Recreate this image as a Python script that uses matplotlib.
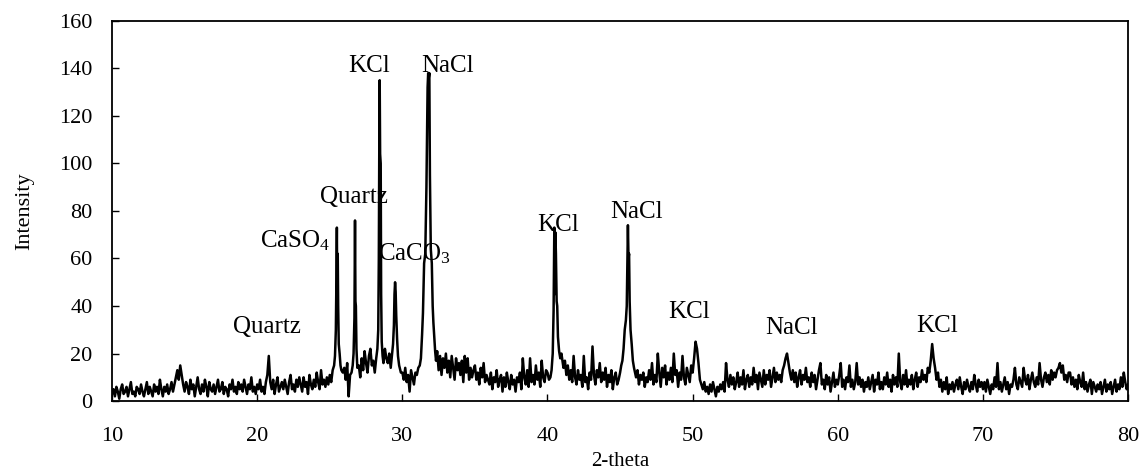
import numpy as np
import matplotlib
matplotlib.use('Agg')
import matplotlib.pyplot as plt

# XRD scan of the salt residue, 2-theta 10-80 deg.
# Background counts on a 0.1 deg step (one row per degree).
base_counts = [
    3, 5, 2, 6, 4, 1, 5, 7, 3, 4,          # 10
    6, 2, 5, 8, 3, 4, 2, 6, 5, 3,          # 11
    7, 4, 2, 5, 8, 3, 6, 4, 2, 7,          # 12
    4, 6, 3, 9, 5, 2, 6, 4, 7, 3,          # 13
    5, 8, 4, 7, 10, 13, 9, 15, 11, 7,      # 14
    4, 8, 6, 3, 9, 5, 7, 2, 6, 10,         # 15
    5, 3, 7, 4, 9, 6, 2, 8, 5, 4,          # 16
    7, 3, 6, 9, 4, 5, 8, 3, 6, 5,          # 17
    2, 7, 5, 9, 4, 6, 3, 8, 5, 7,          # 18
    4, 9, 6, 3, 7, 5, 10, 4, 6, 3,         # 19
    7, 5, 9, 4, 6, 3, 8, 11, 19, 8,        # 20
    5, 9, 3, 7, 10, 4, 6, 8, 5, 9,         # 21
    6, 3, 8, 11, 5, 7, 4, 9, 6, 10,        # 22
    7, 4, 10, 6, 8, 3, 11, 7, 5, 9,        # 23
    6, 12, 8, 5, 13, 7, 9, 6, 10, 7,       # 24
    11, 8, 13, 15, 20, 40, 40, 30, 16, 12, # 25
    14, 9, 16, 2, 11, 13, 20, 40, 18, 12,  # 26
    15, 10, 18, 13, 21, 16, 12, 19, 22, 15, # 27
    17, 12, 20, 22, 28, 80, 80, 40, 22, 18, # 28
    16, 20, 14, 18, 30, 50, 36, 22, 16, 12, # 29
    12, 9, 14, 8, 11, 4, 13, 10, 7, 12,    # 30
    11, 14, 15, 18, 35, 60, 60, 90, 90, 90, # 31
    62, 35, 20, 16, 21, 13, 19, 11, 18, 14, # 32
    20, 12, 17, 10, 19, 14, 9, 18, 13, 16, # 33
    11, 17, 8, 19, 12, 18, 9, 14, 10, 13,  # 34
    15, 9, 12, 7, 14, 10, 16, 8, 11, 9,    # 35
    7, 12, 5, 10, 8, 13, 6, 9, 11, 4,      # 36
    10, 6, 12, 8, 5, 11, 7, 9, 4, 10,      # 37
    8, 12, 5, 18, 10, 7, 13, 6, 18, 8,     # 38
    11, 7, 15, 9, 12, 6, 17, 10, 8, 13,    # 39
    12, 9, 10, 12, 20, 60, 40, 25, 20, 18, # 40
    20, 14, 17, 11, 15, 9, 13, 8, 19, 10,  # 41
    7, 13, 9, 11, 6, 19, 8, 10, 5, 12,     # 42
    9, 23, 11, 7, 13, 10, 16, 8, 12, 9,    # 43
    14, 6, 11, 8, 13, 5, 10, 12, 7, 9,     # 44
    12, 14, 17, 24, 34, 60, 60, 30, 24, 16, # 45
    14, 10, 13, 7, 11, 9, 12, 6, 10, 8,    # 46
    13, 9, 16, 7, 11, 8, 20, 12, 6, 14,    # 47
    10, 15, 7, 12, 9, 14, 8, 20, 11, 13,   # 48
    6, 12, 9, 19, 10, 7, 14, 11, 8, 15,    # 49
    12, 18, 25, 22, 16, 9, 7, 5, 8, 4,     # 50
    6, 3, 7, 4, 8, 5, 2, 6, 4, 7,          # 51
    5, 8, 4, 16, 9, 6, 11, 7, 10, 5,       # 52
    8, 12, 6, 10, 7, 13, 5, 9, 11, 6,      # 53
    10, 7, 14, 8, 11, 5, 12, 9, 6, 13,     # 54
    7, 11, 9, 13, 6, 10, 14, 8, 12, 9,     # 55
    11, 8, 13, 15, 18, 20, 16, 12, 9, 13,  # 56
    8, 12, 6, 10, 13, 7, 11, 9, 14, 8,     # 57
    10, 6, 12, 8, 11, 5, 9, 13, 16, 7,     # 58
    9, 5, 11, 7, 10, 4, 8, 12, 6, 9,       # 59
    7, 11, 16, 6, 9, 5, 10, 8, 15, 6,      # 60
    9, 5, 8, 16, 7, 10, 6, 9, 4, 8,        # 61
    6, 10, 5, 8, 11, 4, 9, 7, 12, 5,       # 62
    8, 5, 10, 7, 12, 6, 9, 4, 11, 7,       # 63
    10, 6, 20, 8, 5, 11, 7, 13, 6, 9,      # 64
    7, 11, 5, 9, 12, 6, 10, 8, 13, 9,      # 65
    11, 8, 14, 12, 17, 24, 18, 14, 9, 12,  # 66
    6, 9, 4, 8, 5, 10, 3, 7, 5, 8,         # 67
    4, 7, 9, 5, 10, 6, 3, 8, 5, 9,         # 68
    6, 4, 8, 5, 11, 7, 4, 9, 6, 8,         # 69
    5, 8, 4, 9, 6, 3, 7, 5, 10, 6,         # 70
    16, 5, 8, 4, 7, 10, 5, 8, 3, 7,        # 71
    6, 9, 14, 7, 5, 10, 8, 6, 14, 9,       # 72
    7, 11, 5, 9, 12, 8, 6, 10, 7, 16,      # 73
    9, 6, 10, 12, 8, 11, 7, 13, 9, 12,     # 74
    10, 13, 14, 16, 12, 15, 9, 11, 8, 12,  # 75
    12, 7, 10, 6, 9, 5, 11, 8, 6, 12,      # 76
    5, 8, 4, 7, 9, 3, 8, 6, 4, 7,          # 77
    5, 8, 3, 6, 9, 4, 7, 5, 8, 3,          # 78
    6, 9, 4, 7, 5, 10, 6, 12, 8, 5,        # 79
    7,                                     # 80
]

# Finer readings across the main reflections
peak_theta = [
    25.30, 25.36, 25.42, 25.46, 25.49, 25.52, 25.55, 25.58, 25.62, 25.68, 25.74, 25.80,
    26.50, 26.58, 26.64, 26.70, 26.74, 26.77, 26.80, 26.84, 26.90,
    28.20, 28.28, 28.34, 28.38, 28.42, 28.44, 28.47, 28.51, 28.54, 28.58, 28.64, 28.70,
    29.30, 29.36, 29.42, 29.46, 29.50, 29.54, 29.58, 29.64, 29.70, 29.78,
    31.20, 31.28, 31.36, 31.42, 31.50, 31.58, 31.66, 31.74, 31.78, 31.82, 31.86, 31.90,
    31.96, 32.03, 32.09, 32.14, 32.20, 32.26, 32.32,
    40.20, 40.28, 40.36, 40.42, 40.47, 40.50, 40.54, 40.58, 40.63, 40.67, 40.72, 40.80,
    40.88, 40.96,
    45.00, 45.08, 45.16, 45.24, 45.32, 45.40, 45.46, 45.51, 45.54, 45.58, 45.62, 45.66,
    45.72, 45.80, 45.88, 45.96,
]
peak_counts = [
    15, 19, 30, 52, 73, 38, 62, 40, 24, 20, 15, 13,
    12, 15, 20, 35, 76, 42, 40, 22, 14,
    18, 22, 30, 60, 120, 135, 104, 100, 45, 25, 19, 16,
    20, 24, 32, 45, 50, 46, 36, 26, 19, 15,
    15, 18, 28, 37, 58, 62, 90, 132, 138, 136, 138, 95,
    64, 58, 40, 33, 27, 21, 17,
    10, 13, 20, 38, 73, 45, 71, 62, 42, 40, 27, 21,
    18, 20,
    12, 15, 17, 22, 30, 34, 40, 62, 74, 60, 62, 42,
    30, 24, 17, 14,
]

# Phase labels: (text, 2-theta, intensity of baseline, alignment)
labels = [
    ('Quartz', 20.66, 28.6, 'center'),
    ('CaSO$_4$', 25.02, 64.8, 'right'),
    ('Quartz', 26.68, 83.4, 'center'),
    ('KCl', 27.71, 138.5, 'center'),
    ('CaCO$_3$', 28.33, 59.4, 'left'),
    ('NaCl', 33.12, 138.5, 'center'),
    ('KCl', 40.74, 71.6, 'center'),
    ('NaCl', 46.11, 77.0, 'center'),
    ('KCl', 49.77, 35.0, 'center'),
    ('NaCl', 56.83, 28.2, 'center'),
    ('KCl', 66.82, 29.0, 'center'),
]

plt.rcParams['font.family'] = ['Liberation Serif', 'DejaVu Serif']
plt.rcParams['mathtext.fontset'] = 'custom'
plt.rcParams['mathtext.rm'] = 'Liberation Serif'
plt.rcParams['mathtext.default'] = 'regular'

base_theta = np.linspace(10, 80, len(base_counts))
p_theta = np.array(peak_theta)
dist = np.min(np.abs(base_theta[:, None] - p_theta[None, :]), axis=1)
keep = dist > 0.045
theta = np.concatenate([base_theta[keep], p_theta])
counts = np.concatenate([np.array(base_counts, dtype=float)[keep], np.array(peak_counts, dtype=float)])
order = np.argsort(theta)
theta, counts = theta[order], counts[order]

fig = plt.figure(figsize=(11.43, 4.73), dpi=100)
ax = fig.add_axes([0.098, 0.152, 0.889, 0.804])
ax.plot(theta, counts, color='black', lw=1.8)

for text, x, y, ha in labels:
    ax.text(x, y, text, ha=ha, va='baseline', fontsize=18)

ax.set_xlim(10, 80)
ax.set_ylim(0, 160)
ax.set_xticks(np.arange(10, 81, 10))
ax.set_yticks(np.arange(0, 161, 20))
ax.tick_params(direction='in', length=5, width=1)
ax.tick_params(axis='y', pad=14, labelsize=16)
ax.tick_params(axis='x', pad=19, labelsize=16)
for s in ax.spines.values():
    s.set_linewidth(1.3)
ax.set_xlabel('2-theta', fontsize=15, labelpad=4)
ax.set_ylabel('Intensity', fontsize=16, labelpad=18)

fig.savefig('out.png', dpi=100)
